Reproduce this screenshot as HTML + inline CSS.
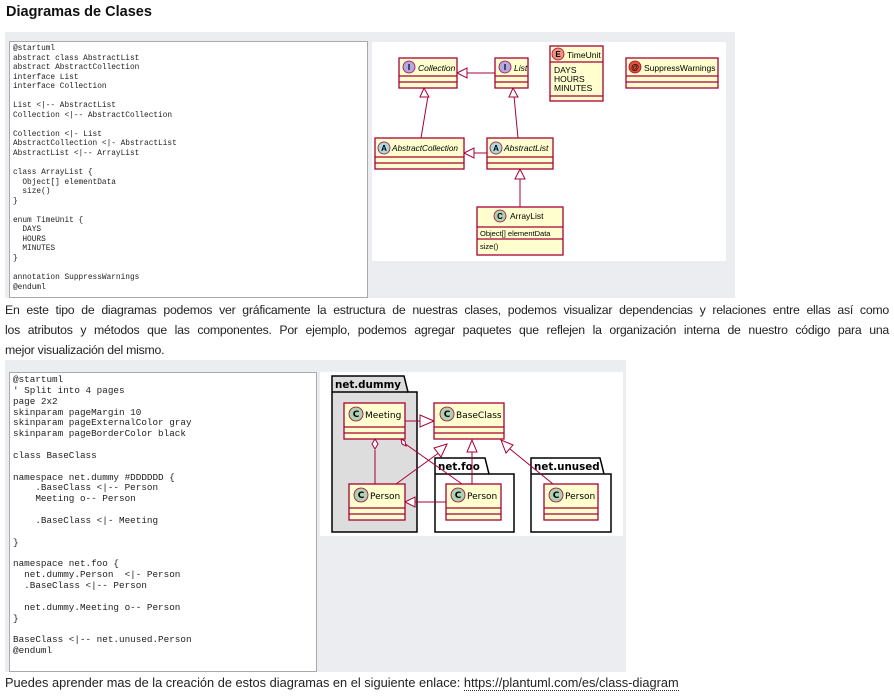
<!DOCTYPE html>
<html><head><meta charset="utf-8"><style>
body{margin:0;width:894px;height:697px;background:#fff;position:relative;overflow:hidden;font-family:"Liberation Sans",sans-serif;color:#222}
.a{position:absolute}
h1{position:absolute;left:6px;top:4px;margin:0;font-size:14.5px;font-weight:bold;color:#111}
.gray{background:#ecedf0}
.code{background:#fff;border:1px solid #aaa;font-family:"Liberation Mono",monospace;white-space:pre;color:#222;padding:0 0 0 3px;box-sizing:border-box}
.p{font-size:12.3px;letter-spacing:-0.25px;color:#222;line-height:21px}
.j{text-align:justify;text-align-last:justify;width:884px}
</style></head><body>
<h1>Diagramas de Clases</h1>
<div class="a gray" style="left:5px;top:32px;width:730px;height:266px"></div>
<div class="a code" style="left:9px;top:41px;width:359px;height:257px;font-size:7.8px;line-height:9.55px;padding-top:3px">@startuml
abstract class AbstractList
abstract AbstractCollection
interface List
interface Collection

List &lt;|-- AbstractList
Collection &lt;|-- AbstractCollection

Collection &lt;|- List
AbstractCollection &lt;|- AbstractList
AbstractList &lt;|-- ArrayList

class ArrayList {
  Object[] elementData
  size()
}

enum TimeUnit {
  DAYS
  HOURS
  MINUTES
}

annotation SuppressWarnings
@enduml</div>
<svg class="a" style="left:372px;top:42px" width="354" height="219" viewBox="372 42 354 219" font-family="Liberation Sans,sans-serif" font-size="8.5">
<rect x="372" y="42" width="354" height="219" fill="#fff"/>
<g stroke="#a80036" fill="none" stroke-width="1">
<line x1="428" y1="96" x2="421" y2="138"/><polygon points="424,88 420,97 429,97" fill="#fff"/>
<line x1="514" y1="96" x2="518" y2="138"/><polygon points="513,88 509,97 518,97" fill="#fff"/>
<line x1="466" y1="73" x2="495" y2="73"/><polygon points="457,73 467,68 467,78" fill="#fff"/>
<line x1="473" y1="153" x2="487" y2="153"/><polygon points="464,153 474,148 474,158" fill="#fff"/>
<line x1="520" y1="178" x2="520" y2="207"/><polygon points="520,169 515,179 525,179" fill="#fff"/>
</g>
<g stroke="#a80036" fill="#fefece" stroke-width="1.3">
<rect x="399" y="58" width="58" height="30"/><line x1="399" y1="76" x2="457" y2="76"/><line x1="399" y1="82" x2="457" y2="82"/>
<rect x="495" y="58" width="33" height="30"/><line x1="495" y1="76" x2="528" y2="76"/><line x1="495" y1="82" x2="528" y2="82"/>
<rect x="550" y="46" width="53" height="55"/><line x1="550" y1="62" x2="603" y2="62"/><line x1="550" y1="96" x2="603" y2="96"/>
<rect x="626" y="58" width="92" height="30"/><line x1="626" y1="76" x2="718" y2="76"/><line x1="626" y1="82" x2="718" y2="82"/>
<rect x="375" y="138" width="89" height="31"/><line x1="375" y1="157" x2="464" y2="157"/><line x1="375" y1="163" x2="464" y2="163"/>
<rect x="487" y="138" width="66" height="31"/><line x1="487" y1="157" x2="553" y2="157"/><line x1="487" y1="163" x2="553" y2="163"/>
<rect x="477" y="207" width="86" height="48"/><line x1="477" y1="227" x2="563" y2="227"/><line x1="477" y1="239" x2="563" y2="239"/>
</g>
<g stroke="#a80036" stroke-width="0.8">
<circle cx="409" cy="67" r="6" fill="#b4a7e5"/><circle cx="505" cy="67" r="6" fill="#b4a7e5"/>
<circle cx="558" cy="54" r="6" fill="#eb937f"/><circle cx="635" cy="67" r="6" fill="#e0523b"/>
<circle cx="384" cy="148" r="6" fill="#a9dcdf"/><circle cx="496" cy="148" r="6" fill="#a9dcdf"/>
<circle cx="500" cy="216" r="6" fill="#add1b2"/>
</g>
<g font-weight="bold" font-size="8" text-anchor="middle" fill="#000">
<text x="409" y="70">I</text><text x="505" y="70">I</text><text x="558" y="57">E</text><text x="635" y="70">@</text>
<text x="384" y="151">A</text><text x="496" y="151">A</text><text x="500" y="219">C</text></g>
<g fill="#000">
<text x="418" y="71" font-style="italic">Collection</text>
<text x="514" y="71" font-style="italic">List</text>
<text x="567" y="58">TimeUnit</text>
<text x="554" y="73">DAYS</text><text x="554" y="82">HOURS</text><text x="554" y="91">MINUTES</text>
<text x="644" y="71">SuppressWarnings</text>
<text x="392" y="151" font-style="italic" font-size="8.2">AbstractCollection</text>
<text x="504" y="151" font-style="italic">AbstractList</text>
<text x="510" y="219">ArrayList</text>
<text x="480" y="236" font-size="7.5">Object[] elementData</text>
<text x="480" y="249" font-size="7.5">size()</text>
</g>
</svg>
<div class="a p j" style="left:5px;top:300px">En este tipo de diagramas podemos ver gráficamente la estructura de nuestras clases, podemos visualizar dependencias y relaciones entre ellas así como</div>
<div class="a p j" style="left:5px;top:320px">los atributos y métodos que las componentes. Por ejemplo, podemos agregar paquetes que reflejen la organización interna de nuestro código para una</div>
<div class="a p" style="left:5px;top:340px">mejor visualización del mismo.</div>

<div class="a gray" style="left:5px;top:360px;width:621px;height:312px"></div>
<div class="a code" style="left:9px;top:372px;width:308px;height:300px;font-size:9.3px;line-height:10.85px;padding-top:2px">@startuml
' Split into 4 pages
page 2x2
skinparam pageMargin 10
skinparam pageExternalColor gray
skinparam pageBorderColor black

class BaseClass

namespace net.dummy #DDDDDD {
    .BaseClass &lt;|-- Person
    Meeting o-- Person

    .BaseClass &lt;|- Meeting

}

namespace net.foo {
  net.dummy.Person  &lt;|- Person
  .BaseClass &lt;|-- Person

  net.dummy.Meeting o-- Person
}

BaseClass &lt;|-- net.unused.Person
@enduml</div>
<svg class="a" style="left:320px;top:372px" width="303" height="164" viewBox="320 372 303 164" font-family="DejaVu Sans,sans-serif" font-size="9">
<rect x="320" y="372" width="303" height="164" fill="#fff"/>
<g stroke="#000" stroke-width="1.5">
<path d="M332,392 L332,376 L404,376 L408,392 L417,392 L417,532 L332,532 Z" fill="#ddd"/>
<line x1="332" y1="392" x2="408" y2="392"/>
<path d="M435,474 L435,458 L485,458 L489,474 L514,474 L514,532 L435,532 Z" fill="#fff"/>
<line x1="435" y1="474" x2="489" y2="474"/>
<path d="M531,474 L531,458 L600,458 L604,474 L611,474 L611,532 L531,532 Z" fill="#fff"/>
<line x1="531" y1="474" x2="604" y2="474"/>
</g>
<g font-weight="bold" font-size="10.3" fill="#000">
<text x="335" y="388">net.dummy</text><text x="438" y="470">net.foo</text><text x="534" y="470">net.unused</text></g>
<g stroke="#a80036" fill="none" stroke-width="1">
<line x1="405" y1="421" x2="420" y2="421"/><polygon points="434,421 420,415 420,427" fill="#fff"/>
<line x1="375" y1="450" x2="375" y2="484"/><polygon points="375,439 372,444 375,449 378,444" fill="#fff"/>
<line x1="404" y1="443" x2="462" y2="484"/><polygon points="401,439 402,444 406,446 405,441" fill="#fff"/>
<line x1="440" y1="452" x2="396" y2="484"/><polygon points="447,444 434,448 441,457" fill="#fff"/>
<line x1="472" y1="452" x2="472" y2="484"/><polygon points="472,440 467,452 477,452" fill="#fff"/>
<line x1="510" y1="449" x2="553" y2="484"/><polygon points="501,440 506,453 513,445" fill="#fff"/>
<line x1="415" y1="502" x2="446" y2="502"/><polygon points="405,502 415,497 415,507" fill="#fff"/>
</g>
<g stroke="#a80036" fill="#fefece" stroke-width="1.3">
<rect x="344" y="403" width="61" height="36"/><line x1="344" y1="427" x2="405" y2="427"/><line x1="344" y1="433" x2="405" y2="433"/>
<rect x="434" y="403" width="70" height="36"/><line x1="434" y1="427" x2="504" y2="427"/><line x1="434" y1="433" x2="504" y2="433"/>
<rect x="349" y="484" width="56" height="36"/><line x1="349" y1="508" x2="405" y2="508"/><line x1="349" y1="514" x2="405" y2="514"/>
<rect x="446" y="484" width="55" height="36"/><line x1="446" y1="508" x2="501" y2="508"/><line x1="446" y1="514" x2="501" y2="514"/>
<rect x="544" y="484" width="54" height="36"/><line x1="544" y1="508" x2="598" y2="508"/><line x1="544" y1="514" x2="598" y2="514"/>
</g>
<g stroke="#a80036" stroke-width="0.8" fill="#add1b2">
<circle cx="356" cy="414" r="7"/><circle cx="447" cy="414" r="7"/><circle cx="361" cy="495" r="7"/><circle cx="458" cy="495" r="7"/><circle cx="556" cy="495" r="7"/></g>
<g font-weight="bold" font-size="9" text-anchor="middle" fill="#000">
<text x="356" y="417">C</text><text x="447" y="417">C</text><text x="361" y="498">C</text><text x="458" y="498">C</text><text x="556" y="498">C</text></g>
<g fill="#000">
<text x="365" y="418">Meeting</text><text x="456" y="418">BaseClass</text><text x="370" y="499">Person</text><text x="467" y="499">Person</text><text x="565" y="499">Person</text></g>
</svg>
<div class="a p" style="left:5px;top:672px;font-size:12.8px;letter-spacing:0">Puedes aprender mas de la creación de estos diagramas en el siguiente enlace: <span style="border-bottom:1px dotted #333">https://plantuml.com/es/class-diagram</span></div>
</body></html>
